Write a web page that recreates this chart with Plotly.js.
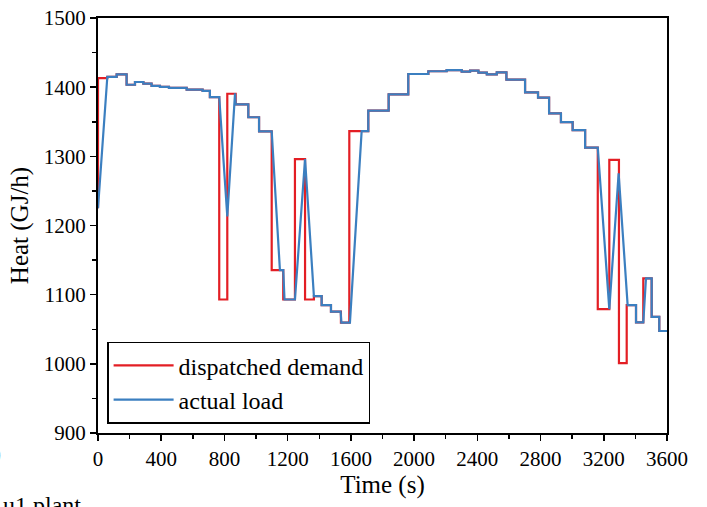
<!DOCTYPE html>
<html>
<head>
<meta charset="utf-8">
<script src="https://cdn.plot.ly/plotly-3.0.1.min.js"></script>
<style>html,body{margin:0;padding:0;background:#fff;}#chart{width:707px;height:507px;}</style>
</head>
<body>
<div id="chart"></div>
<script>
// Dispatched demand (step function: value holds from each time until the next)
const demandTime = [0, 0, 59, 118, 181, 234, 287, 339, 392, 449, 561, 662, 708, 767, 818, 871, 951, 1019, 1099, 1172, 1246, 1310, 1366, 1415, 1474, 1537, 1590, 1710, 1839, 1963, 2090, 2206, 2301, 2354, 2407, 2460, 2523, 2584, 2702, 2784, 2854, 2929, 3003, 3082, 3162, 3235, 3296, 3345, 3404, 3450, 3503, 3551, 3600];
const demandHeat = [1225, 1413, 1415, 1418.5, 1403.5, 1407.5, 1405, 1402, 1400.5, 1399, 1396.5, 1394.5, 1385.5, 1093, 1390.5, 1375, 1356.5, 1336, 1135.5, 1093, 1296, 1093, 1098, 1085, 1075.5, 1059.5, 1336.5, 1366, 1389.5, 1419, 1423, 1424.5, 1422.5, 1424, 1421, 1418.5, 1421.5, 1411, 1392.5, 1385, 1362, 1349.5, 1338, 1312.5, 1079, 1295, 1001, 1085, 1060, 1123.5, 1068, 1047.5, 1047.5];

// Actual load (polyline)
const loadTime = [0, 59, 118, 118, 181, 181, 234, 234, 287, 287, 339, 339, 392, 392, 449, 449, 561, 561, 662, 662, 708, 708, 767, 818, 867, 871, 951, 951, 1019, 1019, 1099, 1151, 1172, 1180, 1246, 1310, 1366, 1415, 1415, 1474, 1474, 1535, 1540, 1594, 1668, 1710, 1710, 1839, 1839, 1963, 1963, 2090, 2090, 2206, 2206, 2301, 2301, 2354, 2354, 2407, 2407, 2460, 2460, 2523, 2523, 2584, 2584, 2702, 2702, 2784, 2784, 2854, 2854, 2929, 2929, 3003, 3003, 3082, 3082, 3162, 3235, 3294, 3351, 3404, 3404, 3450, 3467, 3503, 3503, 3551, 3551, 3600];
const loadHeat = [1225, 1415, 1415, 1418.5, 1418.5, 1403.5, 1403.5, 1407.5, 1407.5, 1405, 1405, 1402, 1402, 1400.5, 1400.5, 1399, 1399, 1396.5, 1396.5, 1394.5, 1394.5, 1385.5, 1385.5, 1213, 1391, 1375, 1375, 1356.5, 1356.5, 1336, 1336, 1135.5, 1135.5, 1093, 1093, 1296, 1098, 1098, 1085, 1085, 1075.5, 1075.5, 1059.5, 1059.5, 1336.5, 1336.5, 1366, 1366, 1389.5, 1389.5, 1419, 1419, 1423, 1423, 1424.5, 1424.5, 1422.5, 1422.5, 1424, 1424, 1421, 1421, 1418.5, 1418.5, 1421.5, 1421.5, 1411, 1411, 1392.5, 1392.5, 1385, 1385, 1362, 1362, 1349.5, 1349.5, 1338, 1338, 1312.5, 1312.5, 1079, 1275.5, 1085, 1085, 1060, 1060, 1123.5, 1123.5, 1068, 1068, 1047.5, 1047.5];

const seriesNames = ['dispatched demand', 'actual load'];
const xTicks = [0, 400, 800, 1200, 1600, 2000, 2400, 2800, 3200, 3600];
const yTicks = [900, 1000, 1100, 1200, 1300, 1400, 1500];

const serif = '"Liberation Serif", "Times New Roman", serif';

const traces = [
  {x: demandTime, y: demandHeat, name: seriesNames[0], mode: 'lines',
   line: {color: '#e31e24', width: 2.2, shape: 'hv'}},
  {x: loadTime, y: loadHeat, name: seriesNames[1], mode: 'lines',
   line: {color: '#3b7fc0', width: 2.2}}
];

const axisCommon = {
  showgrid: false, zeroline: false, showline: true, linecolor: '#000', linewidth: 2,
  mirror: true, ticks: 'outside', ticklen: 6, tickwidth: 1.5, tickcolor: '#000',
  tickfont: {family: serif, size: 21, color: '#000'},
  minor: {ticks: 'outside', ticklen: 4, tickwidth: 1.5, tickcolor: '#000'}
};

const layout = {
  width: 707, height: 507,
  margin: {l: 98, r: 40, t: 18, b: 74},
  paper_bgcolor: '#fff', plot_bgcolor: '#fff',
  showlegend: true,
  xaxis: Object.assign({}, axisCommon, {
    range: [0, 3600], tickmode: 'array', tickvals: xTicks, ticktext: xTicks.map(String),
    minor: Object.assign({}, axisCommon.minor, {dtick: 200, tick0: 0}),
    title: {text: 'Time (s)', font: {family: serif, size: 25, color: '#000'}, standoff: 4}
  }),
  yaxis: Object.assign({}, axisCommon, {
    range: [900, 1500], tickmode: 'array', tickvals: yTicks, ticktext: yTicks.map(String),
    minor: Object.assign({}, axisCommon.minor, {dtick: 50, tick0: 900}),
    title: {text: 'Heat (GJ/h)', font: {family: serif, size: 25, color: '#000'}, standoff: 8}
  }),
  legend: {
    x: 0.016, y: 0.022, xanchor: 'left', yanchor: 'bottom',
    bgcolor: '#fff', bordercolor: '#000', borderwidth: 1.5,
    font: {family: serif, size: 24, color: '#000'},
    tracegroupgap: 0, itemwidth: 60
  },
  annotations: [
    {xref: 'paper', yref: 'paper', x: -0.17, y: -0.138, xanchor: 'left', yanchor: 'top',
     text: 'u1 plant', showarrow: false, font: {family: serif, size: 24, color: '#000'}},
    {xref: 'paper', yref: 'paper', x: -0.167, y: -0.048, xanchor: 'right', yanchor: 'middle',
     text: ')', showarrow: false, font: {family: serif, size: 24, color: '#000'}}
  ]
};

Plotly.newPlot('chart', traces, layout, {displayModeBar: false, staticPlot: true});
</script>
</body>
</html>
